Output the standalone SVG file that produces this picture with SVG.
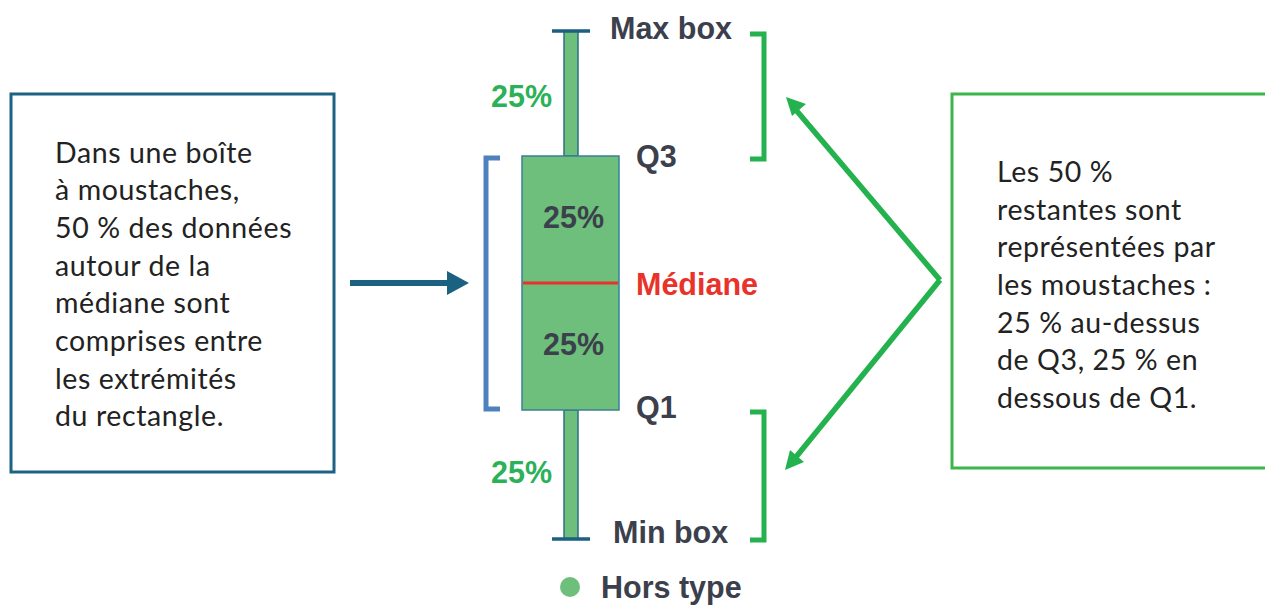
<svg xmlns="http://www.w3.org/2000/svg" width="1265" height="605" viewBox="0 0 1265 605">
<style>
.body{font-family:Lato,"Liberation Sans",sans-serif;font-size:28.5px;letter-spacing:0.6px;fill:#222}
.lbl{font-family:"Liberation Sans",Arial,sans-serif;font-weight:bold;font-size:30.5px;fill:#3b404c}
.grn{fill:#2bb157}
.red{fill:#e8332a}
.gbr{fill:none;stroke:#24b24f;stroke-width:5}
</style>
<rect width="1265" height="605" fill="#fff"/>
<g id="left-box">
<rect x="11" y="94" width="323" height="378" fill="none" stroke="#1d6185" stroke-width="3"/>
<text class="body" x="55"><tspan x="55" y="163">Dans une boîte</tspan><tspan x="55" y="200">à moustaches,</tspan><tspan x="55" y="238">50 % des données</tspan><tspan x="55" y="276">autour de la</tspan><tspan x="55" y="313">médiane sont</tspan><tspan x="55" y="351">comprises entre</tspan><tspan x="55" y="389">les extrémités</tspan><tspan x="55" y="426">du rectangle.</tspan></text>
</g>
<g id="right-box">
<rect x="952" y="94" width="320" height="374" fill="none" stroke="#3cb54a" stroke-width="3"/>
<text class="body" x="997"><tspan x="997" y="182">Les 50 %</tspan><tspan x="997" y="220">restantes sont</tspan><tspan x="997" y="257">représentées par</tspan><tspan x="997" y="295">les moustaches :</tspan><tspan x="997" y="333">25 % au-dessus</tspan><tspan x="997" y="370">de Q3, 25 % en</tspan><tspan x="997" y="408">dessous de Q1.</tspan></text>
</g>
<g id="boxplot">
<rect x="564" y="31" width="14" height="125" fill="#6dbf7b" stroke="#2a6f86" stroke-width="1.5"/>
<rect x="564" y="410" width="14" height="129" fill="#6dbf7b" stroke="#2a6f86" stroke-width="1.5"/>
<line x1="552" y1="31" x2="590" y2="31" stroke="#1d5f80" stroke-width="3.5"/>
<line x1="552" y1="539" x2="590" y2="539" stroke="#1d5f80" stroke-width="3.5"/>
<rect x="522" y="156" width="97" height="254" fill="#6dbf7b" stroke="#3a7f96" stroke-width="1.5"/>
<line x1="523" y1="283" x2="618" y2="283" stroke="#e8332a" stroke-width="3"/>
<text class="lbl" x="543" y="228">25%</text>
<text class="lbl" x="543" y="355">25%</text>
<text class="lbl grn" x="491" y="107">25%</text>
<text class="lbl grn" x="491" y="483">25%</text>
</g>
<g id="labels">
<text class="lbl" x="610" y="39">Max box</text>
<text class="lbl" x="636" y="167">Q3</text>
<text class="lbl red" x="636" y="295">Médiane</text>
<text class="lbl" x="636" y="418">Q1</text>
<text class="lbl" x="613" y="543">Min box</text>
<circle cx="570" cy="587" r="10" fill="#6dbf7b"/>
<text class="lbl" x="601" y="598">Hors type</text>
</g>
<g id="brackets">
<path d="M500,158 L486,158 L486,409 L500,409" fill="none" stroke="#4f81bd" stroke-width="5"/>
<path class="gbr" d="M750,34 L764,34 L764,159 L750,159"/>
<path class="gbr" d="M750,412 L764,412 L764,540 L750,540"/>
</g>
<g id="connectors">
<path d="M350,283 L450,283" stroke="#1b6180" stroke-width="6" fill="none"/>
<path d="M447,271 L469,283 L447,295 Z" fill="#1b6180"/>
<path d="M940,280 L796,110" stroke="#24b24f" stroke-width="5.5" fill="none"/>
<path d="M940,280 L796,457" stroke="#24b24f" stroke-width="5.5" fill="none"/>
<path d="M786,97 L806,104 L792,116 Z" fill="#24b24f"/>
<path d="M785,470 L790,450 L804,462 Z" fill="#24b24f"/>
</g>
</svg>
